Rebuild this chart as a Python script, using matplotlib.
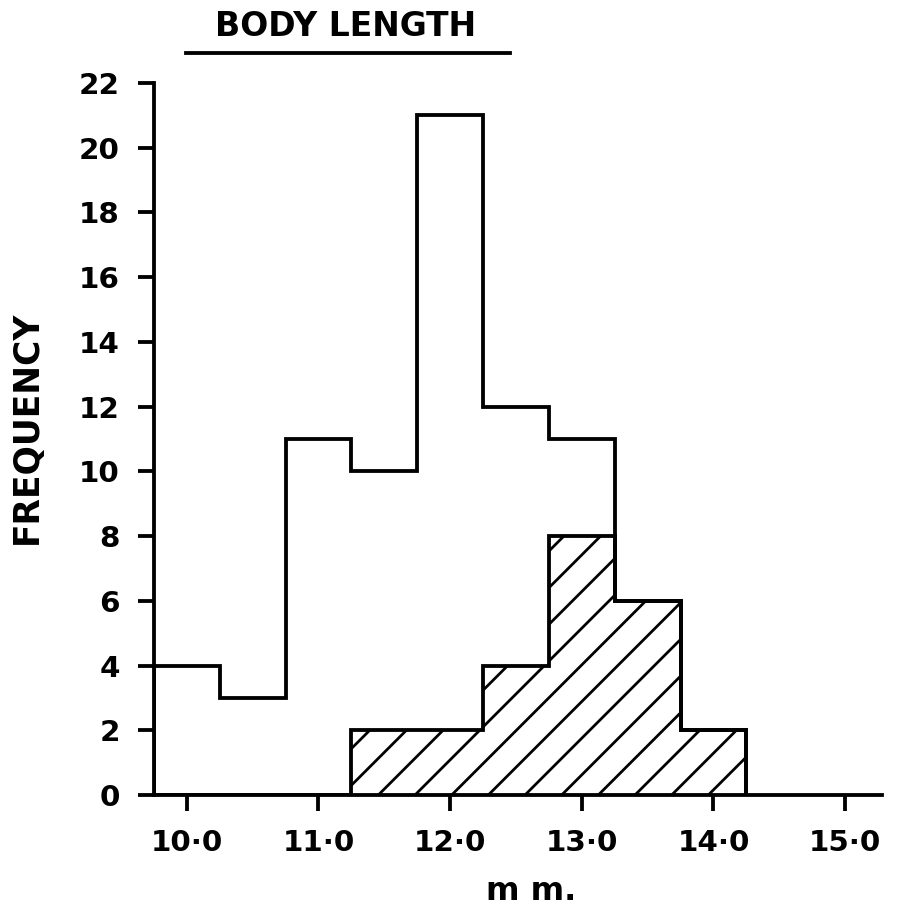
import matplotlib
matplotlib.use("Agg")
import matplotlib.pyplot as plt
from matplotlib.lines import Line2D
import numpy as np

# bin edges (mm) and counts
edges = [9.75, 10.25, 10.75, 11.25, 11.75, 12.25, 12.75, 13.25, 13.75, 14.25]
total = [4, 3, 11, 10, 21, 12, 11, 6, 2]
hatched = [0, 0, 0, 2, 2, 4, 8, 6, 2]
xticks = [10.0, 11.0, 12.0, 13.0, 14.0, 15.0]
xlabels = ["10·0", "11·0", "12·0", "13·0", "14·0", "15·0"]
yticks = list(range(0, 23, 2))

plt.rcParams['font.family'] = ['DejaVu Sans']
plt.rcParams['font.weight'] = 'bold'
plt.rcParams['hatch.linewidth'] = 0.9

dpi = 220
W, H = 900, 910
fig = plt.figure(figsize=(W / dpi, H / dpi), dpi=dpi)
ax = fig.add_axes([0.171, 0.1264, 0.809, 0.7824])

lw = 1.25
ax.stairs(hatched, edges, fill=True, facecolor='white', edgecolor='black',
          hatch='//', linewidth=lw)
ax.stairs(total, edges, color='black', linewidth=lw, baseline=0)

ax.set_xlim(9.75, 15.28)
ax.set_ylim(0, 22)
for s in ['top', 'right']:
    ax.spines[s].set_visible(False)
for s in ['left', 'bottom']:
    ax.spines[s].set_linewidth(lw)

ax.set_xticks(xticks)
ax.set_xticklabels(xlabels)
ax.set_yticks(yticks)
ax.tick_params(axis='both', direction='out', length=5.2, width=lw,
               labelsize=9.6, pad=6)

# axis labels and title placed in figure pixels
fig.text(531 / W, 1 - 900 / H, "m m.", fontsize=10.5, fontweight='bold',
         ha='center', va='baseline')
fig.text(27 / W, 1 - 427 / H, "FREQUENCY", fontsize=11.3, fontweight='bold',
         rotation=90, ha='center', va='center')
fig.text(346 / W, 1 - 26 / H, "BODY LENGTH", fontsize=10.8,
         fontweight='bold', ha='center', va='center')
fig.add_artist(Line2D([186 / W, 510 / W], [1 - 53 / H, 1 - 53 / H],
                      color='black', linewidth=lw, transform=fig.transFigure))

fig.savefig("out.png", dpi=dpi)
